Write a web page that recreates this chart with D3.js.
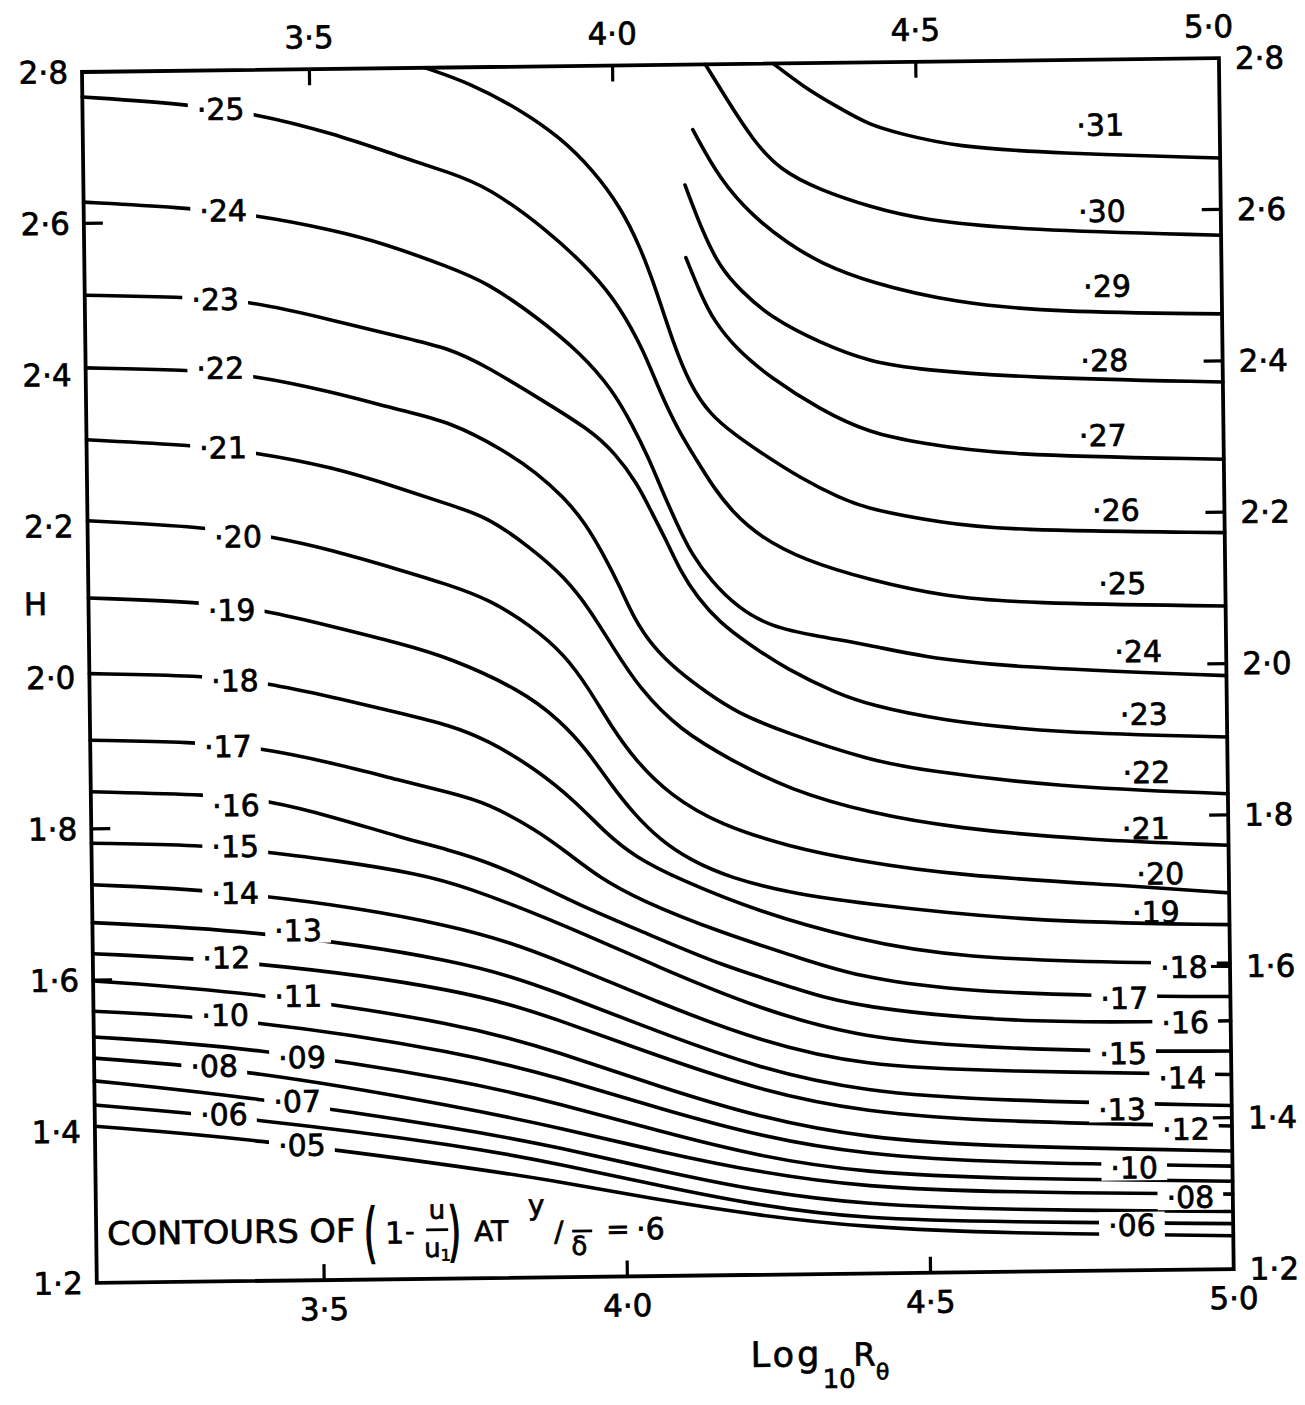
<!DOCTYPE html>
<html>
<head>
<meta charset="utf-8">
<script src="https://cdn.jsdelivr.net/npm/d3@7"></script>
<style>
body { margin: 0; background: #fff; }
text { font-family: "DejaVu Sans", sans-serif; fill: #000; stroke: #000; stroke-width: 0.7px; }
</style>
</head>
<body>
<div id="container"></div>
<script>
//contour lines of (1 - u/u1) at y/delta = .6, points are [log10 R_theta, H]
var c31 = [[4.265,2.80],[4.314,2.769],[4.369,2.742],[4.423,2.717],[4.470,2.706],[4.563,2.687],[4.728,2.677],[5.0,2.668]];
var c30 = [[4.153,2.80],[4.188,2.753],[4.230,2.699],[4.274,2.659],[4.340,2.632],[4.422,2.609],[4.507,2.591],[4.672,2.576],[5.0,2.566]];
var c29 = [[4.131,2.714],[4.175,2.647],[4.229,2.598],[4.284,2.563],[4.338,2.536],[4.420,2.509],[4.560,2.481],[4.725,2.467],[5.0,2.462]];
var c28 = [[4.117,2.641],[4.146,2.577],[4.173,2.532],[4.206,2.501],[4.255,2.465],[4.337,2.430],[4.419,2.404],[4.504,2.393],[4.669,2.381],[5.0,2.372]];
var c27 = [[4.117,2.545],[4.140,2.498],[4.161,2.462],[4.200,2.422],[4.253,2.386],[4.335,2.342],[4.417,2.310],[4.503,2.296],[4.628,2.279],[5.0,2.270]];
var c26 = [[3.691,2.80],[3.765,2.779],[3.847,2.743],[3.912,2.706],[3.966,2.662],[4.010,2.613],[4.042,2.560],[4.069,2.499],[4.093,2.436],[4.121,2.377],[4.154,2.337],[4.195,2.310],[4.235,2.287],[4.301,2.252],[4.366,2.225],[4.416,2.209],[4.539,2.190],[4.633,2.180],[5.0,2.173]];
var c25 = [[3.125,2.767],[3.294,2.756],[3.406,2.743],[3.538,2.715],[3.648,2.683],[3.730,2.661],[3.791,2.642],[3.889,2.584],[3.964,2.526],[4.007,2.481],[4.045,2.424],[4.072,2.367],[4.101,2.317],[4.131,2.277],[4.157,2.242],[4.190,2.207],[4.234,2.175],[4.304,2.144],[4.414,2.116],[4.538,2.093],[4.664,2.083],[5.0,2.076]];
var c24 = [[3.125,2.628],[3.281,2.620],[3.412,2.608],[3.536,2.587],[3.618,2.569],[3.728,2.536],[3.789,2.515],[3.870,2.469],[3.941,2.421],[3.994,2.371],[4.025,2.325],[4.051,2.282],[4.073,2.238],[4.096,2.195],[4.121,2.152],[4.154,2.116],[4.194,2.083],[4.248,2.056],[4.331,2.042],[4.413,2.030],[4.498,2.014],[4.635,1.999],[5.0,1.984]];
var c23 = [[3.125,2.505],[3.282,2.501],[3.393,2.496],[3.534,2.468],[3.644,2.445],[3.726,2.429],[3.787,2.404],[3.869,2.363],[3.956,2.319],[3.996,2.288],[4.032,2.248],[4.056,2.208],[4.079,2.172],[4.101,2.132],[4.129,2.096],[4.166,2.062],[4.210,2.035],[4.276,1.999],[4.357,1.967],[4.412,1.951],[4.524,1.930],[4.716,1.911],[5.0,1.903]];
var c22 = [[3.125,2.409],[3.289,2.405],[3.401,2.397],[3.533,2.373],[3.643,2.348],[3.725,2.332],[3.812,2.294],[3.867,2.263],[3.910,2.231],[3.945,2.197],[3.974,2.156],[4.002,2.111],[4.023,2.071],[4.055,2.031],[4.094,2.000],[4.143,1.970],[4.192,1.943],[4.274,1.915],[4.411,1.878],[4.496,1.864],[4.715,1.840],[5.0,1.828]];
var c21 = [[3.125,2.314],[3.304,2.305],[3.399,2.295],[3.531,2.274],[3.641,2.245],[3.723,2.222],[3.784,2.206],[3.854,2.165],[3.911,2.125],[3.952,2.081],[3.987,2.034],[4.033,1.975],[4.098,1.921],[4.180,1.881],[4.278,1.840],[4.410,1.808],[4.549,1.787],[4.768,1.769],[5.0,1.760]];
var c20 = [[3.125,2.207],[3.315,2.197],[3.431,2.183],[3.529,2.164],[3.639,2.137],[3.722,2.116],[3.787,2.096],[3.853,2.062],[3.910,2.022],[3.950,1.975],[3.983,1.929],[4.023,1.882],[4.080,1.835],[4.162,1.795],[4.277,1.765],[4.384,1.746],[4.553,1.724],[4.838,1.708],[5.0,1.697]];
var c19 = [[3.125,2.105],[3.309,2.098],[3.416,2.086],[3.528,2.063],[3.638,2.040],[3.720,2.020],[3.835,1.977],[3.900,1.936],[3.944,1.896],[3.981,1.852],[4.019,1.812],[4.063,1.776],[4.112,1.749],[4.177,1.725],[4.276,1.704],[4.383,1.690],[4.666,1.662],[5.0,1.655]];
var c18 = [[3.125,2.005],[3.307,2.001],[3.418,1.990],[3.526,1.970],[3.637,1.948],[3.719,1.931],[3.780,1.911],[3.861,1.871],[3.927,1.826],[3.972,1.787],[4.021,1.754],[4.095,1.723],[4.226,1.679],[4.382,1.642],[4.547,1.615],[4.885,1.605],[5.0,1.604]];
var c17 = [[3.125,1.917],[3.294,1.913],[3.402,1.905],[3.525,1.883],[3.635,1.859],[3.717,1.842],[3.778,1.828],[3.860,1.791],[3.914,1.758],[3.963,1.727],[4.028,1.697],[4.160,1.653],[4.291,1.618],[4.382,1.593],[4.546,1.572],[4.777,1.563],[5.0,1.560]];
var c16 = [[3.125,1.849],[3.327,1.843],[3.415,1.835],[3.524,1.812],[3.634,1.784],[3.716,1.766],[3.777,1.750],[3.847,1.725],[3.929,1.691],[4.044,1.651],[4.159,1.610],[4.290,1.576],[4.381,1.552],[4.648,1.529],[4.875,1.528],[5.0,1.528]];
var c15 = [[3.125,1.781],[3.309,1.777],[3.406,1.767],[3.523,1.755],[3.666,1.735],[3.740,1.718],[3.896,1.668],[4.060,1.607],[4.224,1.551],[4.380,1.514],[4.545,1.499],[4.768,1.490],[5.0,1.488]];

//lower contours are read at the same log R positions
var lowX = [3.125, 3.383, 3.737, 3.893, 4.057, 4.221, 4.393, 4.616, 5.0];
var h14 = [1.726,1.715,1.667,1.619,1.561,1.509,1.474,1.465,1.457];
var h13 = [1.676,1.664,1.621,1.576,1.522,1.473,1.440,1.426,1.416];
var h12 = [1.635,1.623,1.582,1.540,1.490,1.444,1.413,1.398,1.389];
var h11 = [1.599,1.582,1.536,1.497,1.450,1.408,1.379,1.365,1.356];
var h10 = [1.559,1.546,1.498,1.463,1.421,1.383,1.357,1.344,1.336];
var h09 = [1.525,1.509,1.461,1.429,1.391,1.356,1.333,1.323,1.316];
var h08 = [1.497,1.479,1.425,1.397,1.364,1.335,1.314,1.305,1.299];
var h07 = [1.467,1.443,1.397,1.371,1.339,1.310,1.291,1.282,1.276];
var h06 = [1.435,1.415,1.375,1.349,1.319,1.291,1.272,1.266,1.260];
var h05 = [1.407,1.388,1.347,1.326,1.300,1.278,1.261,1.251,1.244];

//contour labels [text, log R, H]
var leftLabels = [["25",3.353,2.749],["24",3.355,2.615],["23",3.340,2.498],["22",3.347,2.407],["21",3.350,2.302],
  ["20",3.373,2.184],["19",3.361,2.087],["18",3.365,1.994],["17",3.352,1.907],["16",3.364,1.829],["15",3.362,1.775],
  ["14",3.361,1.713],["13",3.464,1.663],["12",3.345,1.628],["11",3.463,1.576],["10",3.342,1.552],["09",3.468,1.495],
  ["08",3.323,1.485],["07",3.459,1.437],["06",3.338,1.421],["05",3.466,1.379]];
var rightLabels = [["31",4.803,2.714],["30",4.804,2.600],["29",4.811,2.501],["28",4.805,2.403],["27",4.801,2.304],
  ["26",4.821,2.205],["25",4.830,2.108],["24",4.855,2.018],["23",4.863,1.935],["22",4.866,1.858],["21",4.864,1.784],
  ["20",4.887,1.724],["19",4.879,1.673],["18",4.924,1.600],["17",4.825,1.560],["16",4.925,1.527],["15",4.822,1.487],
  ["14",4.919,1.454],["13",4.819,1.413],["12",4.924,1.386],["10",4.838,1.336],["08",4.930,1.296],["06",4.833,1.260]];
//right labels that sit on their line (line is broken)
var rightOnLine = ["18","17","16","15","14","13","12","10","08","06"];

//axis ticks
var xTicks = [3.5, 4.0, 4.5, 5.0];
var xTickLabels = ["3·5", "4·0", "4·5", "5·0"];
var xTickMarks = [3.5, 4.0, 4.5];
var yTicks = [2.8, 2.6, 2.4, 2.2, 2.0, 1.8, 1.6, 1.4, 1.2];
var yTickLabels = ["2·8", "2·6", "2·4", "2·2", "2·0", "1·8", "1·6", "1·4", "1·2"];
var leftTickMarks = [2.6, 1.8, 1.6];
var rightTickMarks = [2.6, 2.4, 2.2, 2.0, 1.8, 1.6, 1.4];

//chart dimensions (the scanned plot is slightly rotated)
var margin = {top: 72, left: 82};
var width = 1137;
var height = 1211;
var tilt = -0.7;

var lowSets = [["14",h14],["13",h13],["12",h12],["11",h11],["10",h10],["09",h09],["08",h08],["07",h07],["06",h06],["05",h05]];
var contours = [["31",c31],["30",c30],["29",c29],["28",c28],["27",c27],["26",c26],["25",c25],["24",c24],["23",c23],
  ["22",c22],["21",c21],["20",c20],["19",c19],["18",c18],["17",c17],["16",c16],["15",c15]];
lowSets.forEach(function(s){
    contours.push([s[0], lowX.map(function(v, i){ return [v, s[1][i]]; })]);
});

var svg = d3.select("#container")
    .append("svg")
    .attr("width", 1305)
    .attr("height", 1405)
    .style("background", "#fff");

var plot = svg.append("g")
    .attr("transform", "translate(" + margin.left + "," + margin.top + ") rotate(" + tilt + ")");

var x = d3.scaleLinear().domain([3.125, 5.0]).range([0, width]);
var y = d3.scaleLinear().domain([1.2, 2.8]).range([height, 0]);

//contour lines, smoothed (hand drawn in the original)
var line = d3.line()
    .x(function(d){ return x(d[0]); })
    .y(function(d){ return y(d[1]); })
    .curve(d3.curveBasis);

plot.append("g")
    .selectAll("path")
    .data(contours)
    .enter()
    .append("path")
    .attr("d", function(d){ return line(d[1]); })
    .attr("fill", "none")
    .attr("stroke", "#000")
    .attr("stroke-width", 3.6)
    .attr("stroke-linecap", "round")
    .attr("stroke-linejoin", "round");

//contour labels, masking the line behind them where it is broken
var labelG = plot.append("g");
function addLabel(d, masked) {
    var cx = x(d[1]), cy = y(d[2]);
    var t = labelG.append("text")
        .attr("x", cx)
        .attr("y", cy + 11)
        .attr("text-anchor", "middle")
        .style("font-size", "30px")
        .text("\u00b7" + d[0]);
    if (masked) {
        var w = t.node().getComputedTextLength();
        labelG.insert("rect", function(){ return t.node(); })
            .attr("x", cx - w / 2 - 9)
            .attr("y", cy - 13)
            .attr("width", w + 18)
            .attr("height", 26)
            .attr("fill", "#fff");
    }
}
leftLabels.forEach(function(d){ addLabel(d, true); });
rightLabels.forEach(function(d){ addLabel(d, rightOnLine.indexOf(d[0]) >= 0); });

//frame
plot.append("rect")
    .attr("x", 0)
    .attr("y", 0)
    .attr("width", width)
    .attr("height", height)
    .attr("fill", "none")
    .attr("stroke", "#000")
    .attr("stroke-width", 3.8);

//tick marks pointing inwards
var tickLen = 16;
var ticks = plot.append("g").attr("stroke", "#000").attr("stroke-width", 3.2);
xTickMarks.forEach(function(v){
    ticks.append("line").attr("x1", x(v)).attr("x2", x(v)).attr("y1", 0).attr("y2", tickLen);
    ticks.append("line").attr("x1", x(v)).attr("x2", x(v)).attr("y1", height).attr("y2", height - tickLen);
});
leftTickMarks.forEach(function(v){
    ticks.append("line").attr("x1", 0).attr("x2", tickLen + 3).attr("y1", y(v)).attr("y2", y(v));
});
rightTickMarks.forEach(function(v){
    ticks.append("line").attr("x1", width).attr("x2", width - tickLen - 3).attr("y1", y(v)).attr("y2", y(v));
});

//tick labels
xTicks.forEach(function(v, i){
    var shift = v === 5.0 ? -10 : 0;
    plot.append("text").attr("x", x(v) + shift).attr("y", -21)
        .attr("text-anchor", "middle").style("font-size", "31px").text(xTickLabels[i]);
    plot.append("text").attr("x", x(v)).attr("y", height + 40)
        .attr("text-anchor", "middle").style("font-size", "31px").text(xTickLabels[i]);
});
yTicks.forEach(function(v, i){
    plot.append("text").attr("x", -14).attr("y", y(v) + 11)
        .attr("text-anchor", "end").style("font-size", "31px").text(yTickLabels[i]);
    plot.append("text").attr("x", width + 16).attr("y", y(v) + 11)
        .attr("text-anchor", "start").style("font-size", "31px").text(yTickLabels[i]);
});

//axis titles
plot.append("text")
    .attr("x", -53)
    .attr("y", height * 0.439 + 11)
    .attr("text-anchor", "middle")
    .style("font-size", "31px")
    .text("H");

var xt = plot.append("text")
    .attr("x", 653)
    .attr("y", height + 92);
xt.append("tspan").style("font-size", "35px").style("letter-spacing", "3px").text("Log");
xt.append("tspan").attr("dy", 22).style("font-size", "26px").text("10");
xt.append("tspan").attr("dy", -22).attr("dx", -2).style("font-size", "32px").text("R");
xt.append("tspan").attr("dy", 14).style("font-size", "22px").text("θ");

//annotation: CONTOURS OF (1 - u/u1) AT y/delta = .6
var ann = plot.append("g");
var base = height - 38;
ann.append("text").attr("x", 11).attr("y", base)
    .attr("textLength", 248).attr("lengthAdjust", "spacingAndGlyphs")
    .style("font-size", "32px").text("CONTOURS OF");
ann.append("text").attr("transform", "translate(268," + (base + 13) + ") scale(1,2)")
    .style("font-size", "32px").style("stroke-width", "1.2px").text("(");
ann.append("text").attr("x", 289).attr("y", base + 2).style("font-size", "30px").text("1");
ann.append("text").attr("x", 309).attr("y", base - 1).style("font-size", "26px").text("-");
ann.append("text").attr("x", 341).attr("y", base - 22).attr("text-anchor", "middle").style("font-size", "26px").text("u");
ann.append("line").attr("x1", 330).attr("x2", 352).attr("y1", base - 11).attr("y2", base - 11)
    .attr("stroke", "#000").attr("stroke-width", 2.8);
ann.append("text").attr("x", 341).attr("y", base + 16).attr("text-anchor", "middle").style("font-size", "26px")
    .text("u").append("tspan").attr("dy", 4).style("font-size", "16px").text("1");
ann.append("text").attr("transform", "translate(352," + (base + 13) + ") scale(1,2)")
    .style("font-size", "32px").style("stroke-width", "1.2px").text(")");
ann.append("text").attr("x", 378).attr("y", base + 1).style("font-size", "28px").text("AT");
ann.append("text").attr("x", 432).attr("y", base - 25).style("font-size", "28px").text("y");
ann.append("text").attr("x", 458).attr("y", base + 2).style("font-size", "28px").text("/");
ann.append("line").attr("x1", 476).attr("x2", 496).attr("y1", base - 8).attr("y2", base - 8)
    .attr("stroke", "#000").attr("stroke-width", 2.8);
ann.append("text").attr("x", 475).attr("y", base + 16).style("font-size", "26px").text("δ");
ann.append("text").attr("x", 510).attr("y", base).style("font-size", "28px").text("=");
ann.append("text").attr("x", 540).attr("y", base + 1).style("font-size", "30px").text("·6");
</script>
</body>
</html>
